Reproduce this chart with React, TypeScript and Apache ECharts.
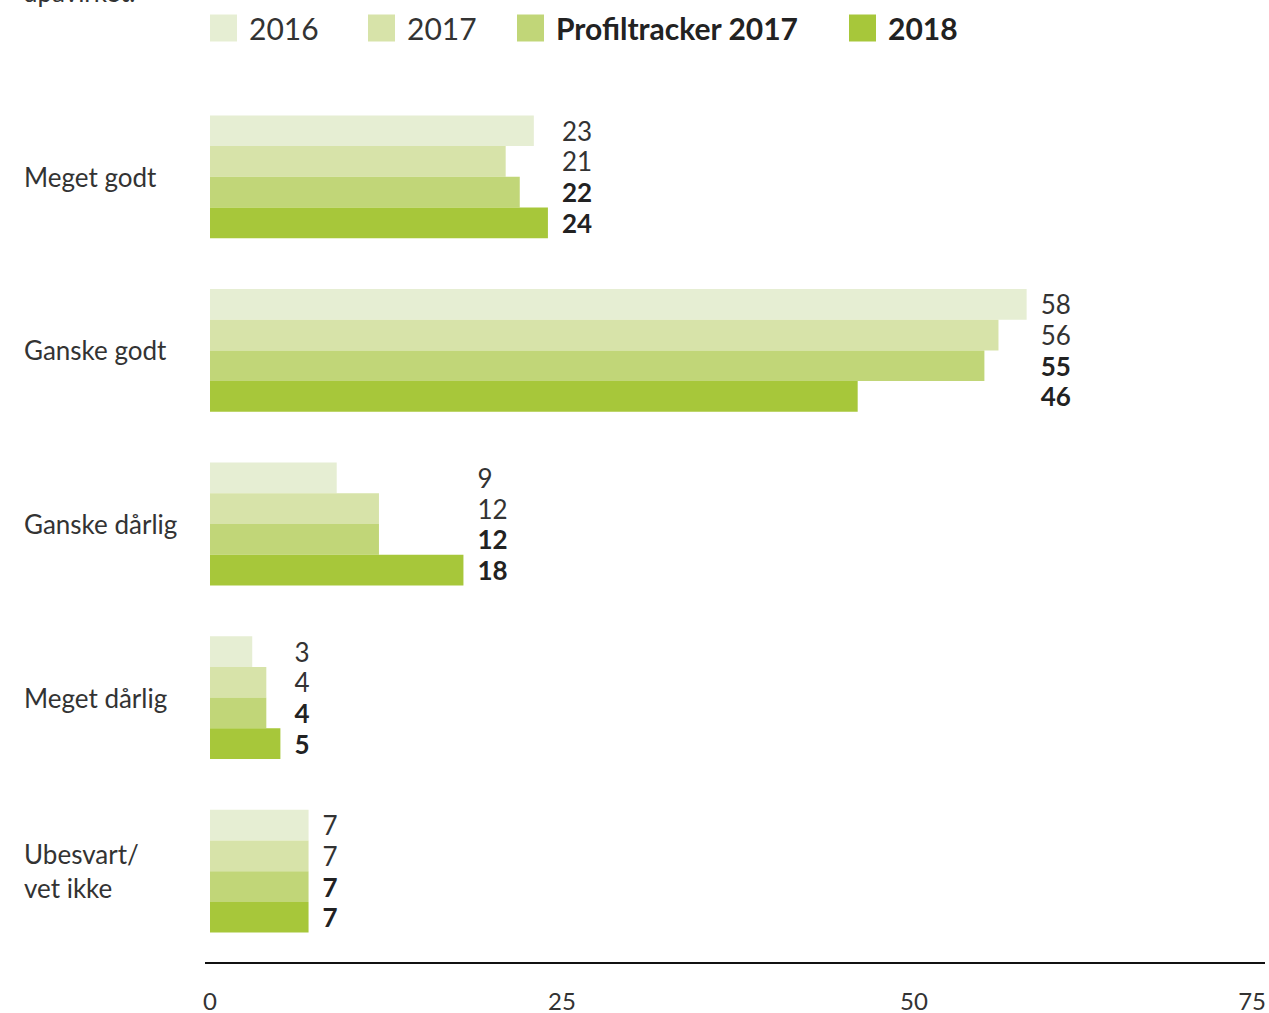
import React, { useEffect, useRef } from "react";
import * as echarts from "echarts";

const categories = ["Meget godt", "Ganske godt", "Ganske dårlig", "Meget dårlig", "Ubesvart/\nvet ikke"];
const seriesNames = ["2016", "2017", "Profiltracker 2017", "2018"];
const values2016 = [23, 58, 9, 3, 7];
const values2017 = [21, 56, 12, 4, 7];
const valuesProfil2017 = [22, 55, 12, 4, 7];
const values2018 = [24, 46, 18, 5, 7];
const xTicks = [0, 25, 50, 75];
const colors = ["#e6eed3", "#d7e3a9", "#c1d678", "#a7c73a"];
const boldSeries = [false, false, true, true];
const legendLefts = [210, 368, 517, 849];

const FONT = "Lato";

export default function App() {
  const ref = useRef<HTMLDivElement>(null);
  useEffect(() => {
    if (!ref.current) return;
    const chart = echarts.init(ref.current, null, { renderer: "svg" });
    const allValues = [values2016, values2017, valuesProfil2017, values2018];
    const groupMax = categories.map((_, i) => Math.max(...allValues.map((s) => s[i])));

    const buildSeries = (withOffsets: boolean) =>
      allValues.map((vals, si) => ({
        name: seriesNames[si],
        type: "bar",
        barWidth: 30.7,
        barGap: "0%",
        itemStyle: { color: colors[si] },
        label: {
          show: true,
          position: "right",
          distance: 14,
          fontFamily: FONT,
          fontSize: 26,
          color: boldSeries[si] ? "#222" : "#333",
          fontWeight: boldSeries[si] ? "bold" : "normal",
        },
        data: vals.map((v, ci) => {
          if (!withOffsets) return v;
          const dx =
            (chart.convertToPixel({ xAxisIndex: 0 }, groupMax[ci]) as number) -
            (chart.convertToPixel({ xAxisIndex: 0 }, v) as number);
          return { value: v, label: { offset: [dx, 0] } };
        }),
      }));

    const option: any = {
      animation: false,
      textStyle: { fontFamily: FONT },
      legend: seriesNames.map((n, i) => ({
        left: legendLefts[i],
        top: 13,
        padding: 0,
        itemWidth: 27,
        itemHeight: 27,
        icon: "rect",
        selectedMode: false,
        textStyle: {
          fontFamily: FONT,
          fontSize: 30,
          color: boldSeries[i] ? "#222" : "#333",
          fontWeight: boldSeries[i] ? "bold" : "normal",
          padding: [0, 0, 0, 7],
        },
        data: [n],
      })),
      grid: { left: 210, right: 0, top: 90, bottom: 55, containLabel: false },
      xAxis: {
        type: "value",
        min: xTicks[0],
        max: xTicks[xTicks.length - 1],
        interval: xTicks[1] - xTicks[0],
        axisLine: { show: false },
        axisTick: { show: false },
        splitLine: { show: false },
        axisLabel: {
          margin: 30,
          fontFamily: FONT,
          fontSize: 24,
          color: "#333",
          alignMaxLabel: "right",
        },
      },
      yAxis: {
        type: "category",
        inverse: true,
        data: categories,
        axisLine: { show: false },
        axisTick: { show: false },
        axisLabel: {
          align: "left",
          margin: 186,
          fontFamily: FONT,
          fontSize: 26,
          lineHeight: 34,
          color: "#333",
        },
      },
      graphic: [
        {
          type: "line",
          shape: { x1: 205, y1: 963, x2: 1265, y2: 963 },
          style: { stroke: "#111", lineWidth: 2 },
        },
        {
          type: "text",
          x: 23,
          y: 5,
          style: {
            text: "upåvirket.",
            fontFamily: FONT,
            fontSize: 26,
            fill: "#333",
            verticalAlign: "bottom",
          },
        },
      ],
      series: buildSeries(false),
    };
    chart.setOption(option);
    chart.setOption({ series: buildSeries(true) });
    return () => chart.dispose();
  }, []);
  return (
    <div
      ref={ref}
      style={{ position: "absolute", left: 0, top: 0, width: 1269, height: 1013, background: "#fff" }}
    />
  );
}
